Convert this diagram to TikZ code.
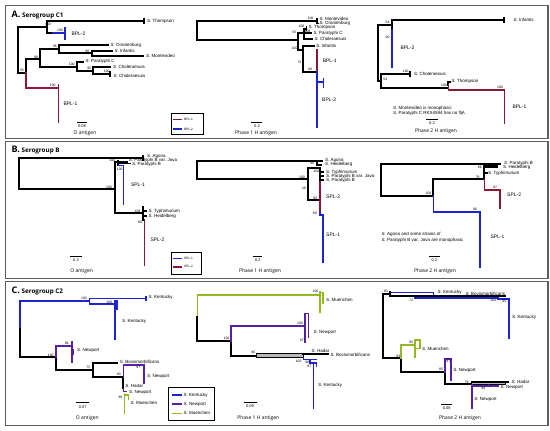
\documentclass[tikz,border=0pt]{standalone}
\usepackage{fontspec}
\setmainfont{Liberation Sans}
\newfontfamily\osans{Open Sans}
\definecolor{bplred}{RGB}{140,24,52}
\definecolor{bplblue}{RGB}{28,36,210}
\definecolor{npurple}{RGB}{88,30,168}
\definecolor{mgreen}{RGB}{148,184,32}
\definecolor{frgray}{RGB}{95,95,95}
\newcommand{\salm}[1]{\textit{S.}~#1}
\begin{document}
\begin{tikzpicture}[x=1pt,y=-1pt,
  brk/.style={line width=1.9pt,black,line cap=rect},
  brr/.style={line width=1.6pt,bplred,line cap=rect},
  brb/.style={line width=1.6pt,bplblue,line cap=rect},
  brp/.style={line width=1.6pt,npurple,line cap=rect},
  brg/.style={line width=1.6pt,mgreen,line cap=rect},
  gbox/.style={line width=0.7pt,fill=gray!55},
  lf/.style={font=\fontsize{4.5}{5}\selectfont,anchor=west,inner sep=0.3pt},
  bs/.style={font=\fontsize{3.4}{4}\selectfont,inner sep=0pt},
  grp/.style={font=\fontsize{5}{6}\selectfont,anchor=west,inner sep=0.3pt},
  lgl/.style={font=\fontsize{3.2}{4}\selectfont,anchor=west,inner sep=0.3pt},
  axl/.style={font=\osans\fontsize{5}{6}\selectfont,inner sep=0pt},
  sbl/.style={font=\fontsize{4}{5}\selectfont,inner sep=0pt},
  ttl/.style={font=\osans\bfseries\fontsize{6.3}{7}\selectfont,anchor=base west,inner sep=0pt},
  frm/.style={draw=frgray,line width=1.2pt},
  lgd/.style={draw=black,line width=0.9pt},
  sbar/.style={line width=0.7pt}]
\useasboundingbox (0,0) rectangle (550,431);
\draw[frm] (5.5,5.5) rectangle (548,138.5);
\draw[frm] (5.5,141.3) rectangle (548,278.5);
\draw[frm] (5.5,281.5) rectangle (548,425.5);
\node[ttl] (ttla) at (11.5,17.5) {{\fontsize{9}{10}\selectfont A.} Serogroup C1};
\node[ttl] (ttlb) at (11.5,152.8) {{\fontsize{9}{10}\selectfont B.} Serogroup B};
\node[ttl] (ttlc) at (11.5,293.3) {{\fontsize{9}{10}\selectfont C.} Serogroup C2};

\draw[brk] (47,21)--(47,33) (47,27)--(18,27)--(18,73)--(26,73);
\draw[brk] (47,21)--(144,21) (144,18.5)--(144,23.5) (47,33)--(53,33);
\draw[brb] (53,33)--(65,33) (65,28)--(65,39);
\draw[brk] (26,73)--(26,59.3)--(40,59.3);
\draw[brr] (26,73)--(26,88)--(58.3,88) (58.3,85)--(58.3,121.7);
\draw[brk] (40,49.3)--(40,66.7) (40,49.3)--(59.3,49.3) (59.3,45)--(59.3,53.3) (59.3,45)--(108.3,45) (59.3,53.3)--(91.7,53.3) (91.7,50.7)--(91.7,56) (91.7,50.7)--(111.7,50.7) (91.7,56)--(143.3,56);
\draw[brk] (40,66.7)--(76.7,66.7) (76.7,61.7)--(76.7,70.7) (76.7,61.7)--(83.3,61.7) (76.7,70.7)--(93.3,70.7) (93.3,66.7)--(93.3,74) (93.3,66.7)--(110,66.7) (93.3,74)--(110,74) (110,71.7)--(110,76.3);
\node[lf] (athom) at (146.5,21) {\salm{Thompson}};
\node[lf] (aoran) at (110,45) {\salm{Oranienburg}};
\node[lf] (ainfa) at (114,50.7) {\salm{Infantis}};
\node[lf] (amont) at (145.5,56) {\salm{Montevideo}};
\node[lf] (aparc) at (85,61.7) {\salm{Paratyphi C}};
\node[lf] (achol) at (112.5,67) {\salm{Choleraesuis}};
\node[lf] (achob) at (113,76) {\salm{Choleraesuis}};
\node[grp] (abpl2) at (71,34) {BPL-2};
\node[grp] (abpl1) at (63,104) {BPL-1};
\node[bs] (ab1) at (48,24.8) {100};
\node[bs] (ab2) at (60,30.8) {100};
\node[bs] (ab3) at (55,46.8) {95};
\node[bs] (ab4) at (36,57) {99};
\node[bs] (ab5) at (87.3,51.3) {96};
\node[bs] (ab6) at (71.7,64.3) {100};
\node[bs] (ab7) at (89.3,68.3) {95};
\node[bs] (ab8) at (106.7,71.8) {100};
\node[bs] (ab9) at (22,70.5) {55};
\node[bs] (ab10) at (52.7,85.8) {100};
\draw[sbar] (77,122.7)--(87,122.7);
\node[sbl] (asc) at (82,126.3) {0.08};
\node[axl] (aax) at (85,133) {O antigen};
\draw[lgd] (171,113.5) rectangle (203,134.5);
\draw[brr] (173.5,119.3)--(181.5,119.3);
\draw[brb] (173.5,129)--(181.5,129);
\node[lgl] (alg1) at (183.5,119.3) {BPL-1};
\node[lgl] (alg2) at (183.5,129) {BPL-2};

\draw[brk] (316.7,20.7)--(197.3,20.7)--(197.3,40)--(298.3,40);
\draw[brk] (316.7,19)--(316.7,23.5) (316.7,23.5)--(318,23.5);
\draw[brk] (298.3,33.3)--(298.3,50) (298.3,33.3)--(304,33.3) (304,28.7)--(304,39.3) (304,28.7)--(306.5,28.7) (306.5,27)--(306.5,30.5) (304,33.3)--(311,33.3) (304,39.3)--(312,39.3);
\draw[brk] (298.3,50)--(303.3,50) (303.3,46.3)--(303.3,71.7) (303.3,46.3)--(314,46.3) (303.3,71.7)--(316.7,71.7);
\draw[brr] (316.7,50)--(316.7,71.7);
\draw[brb] (316.7,71.7)--(316.7,126.7) (316.7,81.7)--(323.3,81.7) (323.3,78.3)--(323.3,87);
\node[lf] (bmont) at (319,19.3) {\salm{Montevideo}};
\node[lf] (boran) at (319,23.5) {\salm{Oranienburg}};
\node[lf] (bthom) at (308,27.7) {\salm{Thompson}};
\node[lf] (bparc) at (313,33.3) {\salm{Paratyphi C}};
\node[lf] (bchol) at (314,39.3) {\salm{Choleraesuis}};
\node[lf] (binfa) at (315.5,45.7) {\salm{Infantis}};
\node[grp] (bbpl1) at (322.3,61) {BPL-1};
\node[grp] (bbpl2) at (321.7,99.3) {BPL-2};
\node[bs] (bb1) at (310.5,18.5) {100};
\node[bs] (bb2) at (301.5,26.1) {100};
\node[bs] (bb3) at (307.5,31.4) {100};
\node[bs] (bb4) at (294.3,32.3) {55};
\node[bs] (bb5) at (294.6,48.2) {100};
\node[bs] (bb6) at (299.4,62.7) {74};
\node[bs] (bb7) at (310,69.6) {99};
\draw[sbar] (251,122.3)--(262.3,122.3);
\node[sbl] (bsc) at (257,126) {0.2};
\node[axl] (bax) at (256,133) {Phase 1 H antigen};

\draw[brk] (391.7,25)--(378.3,25)--(378.3,81)--(381,81);
\draw[brk] (391.7,20)--(391.7,30) (391.7,20)--(504.3,20) (504.3,18.3)--(504.3,21.7);
\draw[brb] (391.7,30)--(391.7,66.7);
\draw[brk] (381,74)--(381,88.3) (381,74)--(410,74) (410,71.7)--(410,76.3) (381,88.3)--(448.3,88.3) (448.3,81.7)--(448.3,85) (448.3,81.7)--(450,81.7);
\draw[brr] (448.3,85)--(448.3,89.7)--(504.3,89.7)--(504.3,123.3);
\node[lf] (cinfa) at (513,20) {\salm{Infantis}};
\node[lf] (cchol) at (413.5,74) {\salm{Choleraesuis}};
\node[lf] (cthom) at (451,81.7) {\salm{Thompson}};
\node[grp] (cbpl2) at (400,47.7) {BPL-2};
\node[grp] (cbpl1) at (512,106.7) {BPL-1};
\node[bs] (cb1) at (387.5,22.6) {54};
\node[bs] (cb2) at (387.5,37.3) {90};
\node[bs] (cb3) at (405.7,71.3) {100};
\node[bs] (cb4) at (385.3,79.5) {54};
\node[bs] (cb5) at (444,85.8) {100};
\node[bs] (cb6) at (500,87.3) {100};
\node[lf] (cnote1) at (392.5,108.3) {\salm{Montevideo} is monophasic};
\node[lf] (cnote2) at (392.5,113.3) {\salm{Paratyphi C} RKS4594 has no fljA};
\draw[sbar] (426,119.3)--(437.7,119.3);
\node[sbl] (csc) at (432,123) {0.2};
\node[axl] (cax) at (436,131) {Phase 2 H antigen};

\draw[brk] (143.3,158.3)--(19,158.3)--(19,189.3)--(115,189.3);
\draw[brk] (143.3,156.3)--(143.3,160.3);
\draw[brk] (115,161.7)--(115,213.3) (115,161.7)--(118.3,161.7) (118.3,160.7)--(118.3,165) (118.3,161.7)--(127,161.7) (118.3,163.5)--(130,163.5);
\draw[brb] (118.3,165.3)--(123.3,165.3)--(123.3,204);
\draw[brk] (115,213.3)--(143.3,213.3) (143.3,206.7)--(143.3,220) (143.3,211)--(146,211) (143.3,216.3)--(146,216.3);
\draw[brr] (144.3,220)--(144.3,265);
\node[lf] (dagon) at (146.5,156.7) {\salm{Agona}};
\node[lf] (djava) at (128.3,160.5) {\salm{Paratyphi B} var. Java};
\node[lf] (dparb) at (131.7,164.3) {\salm{Paratyphi B}};
\node[lf] (dtyph) at (148,211) {\salm{Typhimurium}};
\node[lf] (dheid) at (148,216) {\salm{Heidelberg}};
\node[grp] (dspl1) at (130.5,185) {SPL-1};
\node[grp] (dspl2) at (150,240) {SPL-2};
\node[bs] (db1) at (112.3,160.3) {100};
\node[bs] (db2) at (119.8,169.2) {100};
\node[bs] (db3) at (109,187.1) {100};
\node[bs] (db4) at (137.5,211.1) {100};
\node[bs] (db5) at (140,222) {88};
\draw[sbar] (70,256)--(81.7,256);
\node[sbl] (dsc) at (76,260) {0.2};
\node[axl] (dax) at (81.7,271.7) {O antigen};
\draw[lgd] (171.7,252.3) rectangle (201.7,274);
\draw[brb] (173.5,258.3)--(181.5,258.3);
\draw[brr] (173.5,266.7)--(181.5,266.7);
\node[lgl] (dlg1) at (183.5,258.3) {SPL-1};
\node[lgl] (dlg2) at (183.5,266.7) {SPL-2};

\draw[brk] (316.7,160.7)--(197.3,160.7)--(197.3,179.3)--(307.7,179.3);
\draw[brk] (316.7,160.7)--(322.5,160.7) (316.7,160.7)--(316.7,164.7)--(321.5,164.7);
\draw[brk] (307.7,168.3)--(307.7,200) (307.7,168.3)--(320,168.3) (320,168.3)--(320,180) (320,172.3)--(323,172.3) (320,176.3)--(323,176.3) (320,180)--(323,180) (307.7,200)--(320,200);
\draw[brr] (320,181.7)--(320,211.7);
\draw[brb] (320,211.7)--(320,215)--(322.7,215)--(322.7,261.7);
\node[lf] (eagon) at (324.5,160.5) {\salm{Agona}};
\node[lf] (eheid) at (324.5,164.5) {\salm{Heidelberg}};
\node[lf] (etyph) at (325.5,172.3) {\salm{Typhimurium}};
\node[lf] (ejava) at (325.5,176.3) {\salm{Paratyphi B} var. Java};
\node[lf] (eparb) at (325.5,180) {\salm{Paratyphi B}};
\node[grp] (espl2) at (325.7,196.7) {SPL-2};
\node[grp] (espl1) at (325.7,234.3) {SPL-1};
\node[bs] (eb1) at (312.3,163) {96};
\node[bs] (eb2) at (302,177.3) {100};
\node[bs] (eb3) at (316.3,171) {100};
\node[bs] (eb4) at (303.8,188.3) {48};
\node[bs] (eb5) at (315.3,198) {85};
\node[bs] (eb6) at (314.8,213.3) {89};
\draw[sbar] (252.7,256)--(262.3,256);
\node[sbl] (esc) at (257.7,260) {0.2};
\node[axl] (eax) at (260,271.7) {Phase 1 H antigen};

\draw[brk] (500,164)--(381,164)--(381,196)--(433.3,196);
\draw[brk] (484.3,164.5)--(484.3,179.3) (484.3,173.3)--(486.7,173.3) (433.3,179.3)--(433.3,196) (433.3,179.3)--(484.3,179.3);
\draw[brk,line width=2.6pt] (484.3,166.6)--(497,166.6);
\draw[brr] (484.3,179.3)--(484.3,190)--(500,190)--(500,208.3);
\draw[brb] (433.3,196)--(433.3,211.7)--(480,211.7)--(480,266.7);
\node[lf] (fparb) at (503.5,163.3) {\salm{Paratyphi B}};
\node[lf] (fheid) at (502.5,167.3) {\salm{Heidelberg}};
\node[lf] (ftyph) at (487.5,173.3) {\salm{Typhimurium}};
\node[grp] (fspl2) at (506.7,195) {SPL-2};
\node[grp] (fspl1) at (490,236.7) {SPL-1};
\node[bs] (fb1) at (479.8,167.5) {86};
\node[bs] (fb2) at (477.7,177) {78};
\node[bs] (fb3) at (428.5,193.8) {100};
\node[bs] (fb4) at (495,187.8) {97};
\node[bs] (fb5) at (475,209.5) {96};
\node[lf] (fnote1) at (381.2,234.3) {\salm{Agona} and some strains of};
\node[lf] (fnote2) at (381.2,240) {\salm{Paratyphi B} var. Java are monophasic};
\draw[sbar] (429,256)--(440,256);
\node[sbl] (fsc) at (434.3,260) {0.2};
\node[axl] (fax) at (435,271.7) {Phase 2 H antigen};

\draw[brb] (20,329.3)--(20,300.7)--(89.3,300.7) (89.3,298.3)--(89.3,304) (89.3,298.3)--(145.7,298.3) (145.7,296.7)--(145.7,300) (89.3,304)--(115,304) (115,300.7)--(115,339.3) (116.8,301)--(116.8,309);
\draw[brk] (20,329.3)--(20,357.3)--(56,357.3) (56,357.3)--(56,370)--(92.7,370) (92.7,363.3)--(92.7,376.7) (92.7,363.3)--(117.3,363.3) (92.7,376.7)--(123.3,376.7) (123.3,376.7)--(123.3,388.3);
\draw[brp] (56,357.3)--(56,345.7)--(71.7,345.7) (71.7,341.7)--(71.7,361.7) (71.7,350)--(73.5,350)--(73.5,354);
\draw[brp] (123.3,376.7)--(123.3,365)--(144,365)--(144,383.3) (123.3,388.3)--(123.3,391.3)--(126,391.3);
\draw[brg] (124.5,393.5)--(124.5,413.3) (124.5,395)--(128.3,395)--(128.3,399);
\node[lf] (gkent) at (148,297.3) {\salm{Kentucky}};
\node[lf] (gkenb) at (121.7,321.7) {\salm{Kentucky}};
\node[lf] (gnewa) at (76.7,350.7) {\salm{Newport}};
\node[lf] (gbovi) at (119.3,361.5) {\salm{Bovismorbificans}};
\node[lf] (gnewb) at (146.7,376.7) {\salm{Newport}};
\node[lf] (ghada) at (124.8,386) {\salm{Hadar}};
\node[lf] (gnewc) at (128.7,392.3) {\salm{Newport}};
\node[lf] (gmuen) at (130,403.3) {\salm{Muenchen}};
\node[bs] (gb1) at (84,298.3) {100};
\node[bs] (gb2) at (109.3,302.1) {100};
\node[bs] (gb3) at (50.7,355.1) {100};
\node[bs] (gb4) at (66.7,343.3) {99};
\node[bs] (gb5) at (88.3,367.8) {75};
\node[bs] (gb6) at (119,374.5) {83};
\node[bs] (gb7) at (138.3,367.7) {97};
\node[bs] (gb8) at (120.5,397.3) {89};
\draw[sbar] (76,402.7)--(89.3,402.7);
\node[sbl] (gsc) at (82.7,406.7) {0.07};
\node[axl] (gax) at (87.3,418.3) {O antigen};
\draw[lgd] (168.3,387) rectangle (214,420.5);
\draw[brb] (172.7,395)--(181,395);
\draw[brp] (172.7,404)--(181,404);
\draw[brg] (172.7,413.3)--(181,413.3);
\node[lf] (glg1) at (183,395) {\salm{Kentucky}};
\node[lf] (glg2) at (183,404) {\salm{Newport}};
\node[lf] (glg3) at (183,413.3) {\salm{Muenchen}};

\draw[brg] (197.3,317.3)--(197.3,295)--(320,295) (320,291.7)--(320,311.7) (320,292.5)--(323,292.5)--(323,303);
\draw[brk] (197.3,317.3)--(197.3,341)--(230.7,341) (230.7,341)--(230.7,356)--(256.7,356);
\draw[brp] (230.7,341)--(230.7,326)--(305,326) (305,313.3)--(305,341.7) (305,313.3)--(308.3,313.3)--(308.3,336.7);
\draw[gbox] (256.7,353.5) rectangle (303.3,357.5);
\draw[brk] (303.3,354.3)--(328.5,354.3);
\draw[brb] (303.3,357.7)--(303.3,359.5)--(316,359.5) (310,359.5)--(310,363)--(313.3,363)--(313.3,408.3) (313.3,363)--(316.5,363)--(316.5,366.5);
\node[lf] (hmuen) at (325.7,300) {\salm{Muenchen}};
\node[lf] (hnewp) at (313,332.7) {\salm{Newport}};
\node[lf] (hhada) at (311,351.1) {\salm{Hadar}};
\node[lf] (hbovi) at (330,355) {\salm{Bovismorbificans}};
\node[lf] (hkent) at (317.7,385) {\salm{Kentucky}};
\node[bs] (hb1) at (315.5,291.8) {100};
\node[bs] (hb2) at (226.5,338.6) {100};
\node[bs] (hb3) at (300,323.6) {100};
\node[bs] (hb4) at (301.8,340) {97};
\node[bs] (hb5) at (253.3,352) {90};
\node[bs] (hb6) at (298.6,361.3) {100};
\node[bs] (hb7) at (307,362.2) {98};
\node[bs] (hb8) at (309.3,366.4) {97};
\draw[sbar] (244.3,402.3)--(256.7,402.3);
\node[sbl] (hsc) at (250,406) {0.09};
\node[axl] (hax) at (258.3,417.7) {Phase 1 H antigen};

\draw[brk] (390,294)--(383.3,294)--(383.3,358.3)--(401,358.3);
\draw[brb] (390,292.3)--(433.3,292.3)--(433.3,295);
\draw[brk] (390,292.3)--(390,296.3)--(505,296.3);
\draw[brb] (415,298)--(498,298)--(498,298.8)--(509,298.8)--(509,338.3);
\draw[brk] (401,358.3)--(401,371.7)--(445,371.7) (445,371.7)--(445,384.3)--(471.7,384.3);
\draw[brg] (401,358.3)--(401,345)--(415,345) (415,340)--(415,357.3) (415,340)--(420,340)--(420,348.3)--(416.5,348.3);
\draw[brp] (445,371.7)--(445,359)--(451,359)--(451,380);
\draw[gbox] (471.7,381.7) rectangle (505,384);
\draw[brk] (471.7,381.7)--(508.3,381.7);
\draw[brp] (471.7,384.3)--(471.7,408.3) (471.7,386)--(498.5,386) (488.3,386)--(488.3,384.3);
\node[lf] (ikent) at (437,292.5) {\salm{Kentucky}};
\node[lf] (ibovi) at (465,294.2) {\salm{Bovismorbificans}};
\node[lf] (ikenb) at (511.7,317.3) {\salm{Kentucky}};
\node[lf] (imuen) at (421.5,349.3) {\salm{Muenchen}};
\node[lf] (inewa) at (452.8,370.7) {\salm{Newport}};
\node[lf] (ihada) at (511,381.7) {\salm{Hadar}};
\node[lf] (inewb) at (500,387.3) {\salm{Newport}};
\node[lf] (inewc) at (473.8,399.3) {\salm{Newport}};
\node[bs] (ib1) at (385.9,291.3) {83};
\node[bs] (ib2) at (411,300.5) {72};
\node[bs] (ib3) at (493.3,300.7) {100};
\node[bs] (ib4) at (504.3,301.2) {85};
\node[bs] (ib5) at (398.3,356.1) {83};
\node[bs] (ib6) at (411,342.5) {95};
\node[bs] (ib7) at (441,369.6) {85};
\node[bs] (ib8) at (448.3,361.6) {97};
\node[bs] (ib9) at (466.7,381.9) {79};
\node[bs] (ib10) at (483.3,388.7) {98};
\draw[sbar] (441,404.3)--(452.3,404.3);
\node[sbl] (isc) at (446.7,408.3) {0.08};
\node[axl] (iax) at (460,418.3) {Phase 2 H antigen};
\end{tikzpicture}
\end{document}
